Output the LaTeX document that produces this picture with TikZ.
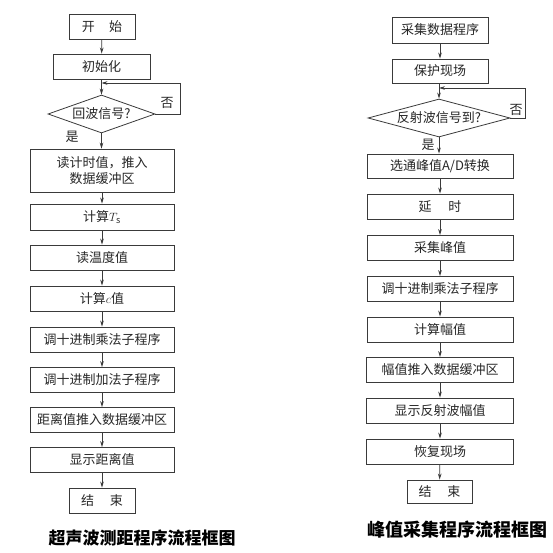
\documentclass[tikz,border=0pt]{standalone}
\usepackage{fontspec}
\setmainfont{Noto Sans CJK SC}
\usetikzlibrary{arrows.meta,shapes.geometric}
\definecolor{ln}{HTML}{3A3A3A}
\definecolor{tx}{HTML}{262626}
\tikzset{
  box/.style={draw=ln,line width=0.8pt,rectangle,minimum height=25pt,inner sep=0pt,text=tx,font=\fontsize{13}{16}\selectfont,align=center},
  wbox/.style={box,minimum width=144pt},
  sbox/.style={box,minimum width=66pt},
  dec/.style={draw=ln,line width=0.8pt,diamond,inner sep=0pt,text=tx,font=\fontsize{13}{16}\selectfont},
  arr/.style={draw=ln,line width=0.8pt,-{Stealth[length=6pt,width=3.6pt]}},
  lbl/.style={text=tx,font=\fontsize{13}{16}\selectfont},
  captext/.style={text=black}
}
\begin{document}
\begin{tikzpicture}[x=1pt,y=-1pt]
\useasboundingbox (0,0) rectangle (553,553);
% ---------- left chart ----------
\node[sbox] (s1) at (102,26.5) {开\hspace{1.1em}始};
\node[box,minimum width=97pt] (s2) at (101.5,66.5) {初始化};
\node[dec,minimum width=107pt,minimum height=38pt,aspect=2.8] (d1) at (101.5,114) {回波信号?};
\node[wbox,minimum height=43pt] (s3) at (102,170.5) {读计时值，推入\\数据缓冲区};
\node[wbox,minimum height=26pt] (s4) at (102,217) {计算$T_{\mathrm{s}}$};
\node[wbox] (s5) at (102,257.5) {读温度值};
\node[wbox] (s6) at (102,298.5) {计算$c$值};
\node[wbox] (s7) at (102,339.5) {调十进制乘法子程序};
\node[wbox] (s8) at (102,380) {调十进制加法子程序};
\node[wbox] (s9) at (102,420) {距离值推入数据缓冲区};
\node[wbox] (s10) at (102,460) {显示距离值};
\node[sbox] (s11) at (102,500.5) {结\hspace{1.2em}束};
\coordinate (l1) at (180,83);
\draw[arr] (s1) -- (s2);
\draw[arr] (s2.south) -- (s2.south |- d1.north);
\draw[arr] (d1.east) -- (d1.east -| l1) -- (l1) -- (s2.south |- l1);
\draw[arr] (d1.south) -- (d1.south |- s3.north);
\draw[arr] (s3) -- (s4);
\draw[arr] (s4) -- (s5);
\draw[arr] (s5) -- (s6);
\draw[arr] (s6) -- (s7);
\draw[arr] (s7) -- (s8);
\draw[arr] (s8) -- (s9);
\draw[arr] (s9) -- (s10);
\draw[arr] (s10) -- (s11);
\node[lbl] (n1) at (167,103) {否};
\node[lbl] (y1) at (72,137) {是};
\node[captext,font=\bfseries\fontsize{17}{20}\selectfont] (c1) at (142,538) {超声波测距程序流程框图};
% ---------- right chart ----------
\node[box,minimum width=96pt,minimum height=26pt] (r1) at (440,30) {采集数据程序};
\node[box,minimum width=96pt,minimum height=24pt] (r2) at (440,71) {保护现场};
\node[dec,minimum width=142pt,minimum height=38pt,aspect=3.7] (rd) at (439,118) {反射波信号到?};
\node[box,minimum width=146pt,minimum height=24pt] (r3) at (440,166) {选通峰值A/D转换};
\node[box,minimum width=146pt] (r4) at (440,206.5) {延\hspace{1.3em}时};
\node[box,minimum width=146pt] (r5) at (440,248) {采集峰值};
\node[box,minimum width=146pt] (r6) at (440,289) {调十进制乘法子程序};
\node[box,minimum width=146pt] (r7) at (440,329.5) {计算幅值};
\node[box,minimum width=147pt] (r8) at (440,370) {幅值推入数据缓冲区};
\node[box,minimum width=147pt] (r9) at (440,410.5) {显示反射波幅值};
\node[box,minimum width=147pt] (r10) at (440,451.5) {恢复现场};
\node[box,minimum width=65pt,minimum height=23pt] (r11) at (439.5,491.5) {结\hspace{1.2em}束};
\coordinate (l2) at (525,88);
\draw[arr] (r1) -- (r2);
\draw[arr] (rd.north |- r2.south) -- (rd.north);
\draw[arr] (rd.east) -- (rd.east -| l2) -- (l2) -- (rd.north |- l2);
\draw[arr] (rd.south) -- (rd.south |- r3.north);
\draw[arr] (r3) -- (r4);
\draw[arr] (r4) -- (r5);
\draw[arr] (r5) -- (r6);
\draw[arr] (r6) -- (r7);
\draw[arr] (r7) -- (r8);
\draw[arr] (r8) -- (r9);
\draw[arr] (r9) -- (r10);
\draw[arr] (r10) -- (r11);
\node[lbl] (n2) at (516,110) {否};
\node[lbl] (y2) at (428,145) {是};
\node[captext,font=\bfseries\fontsize{18}{21}\selectfont] (c2) at (457,530) {峰值采集程序流程框图};
\end{tikzpicture}
\end{document}
